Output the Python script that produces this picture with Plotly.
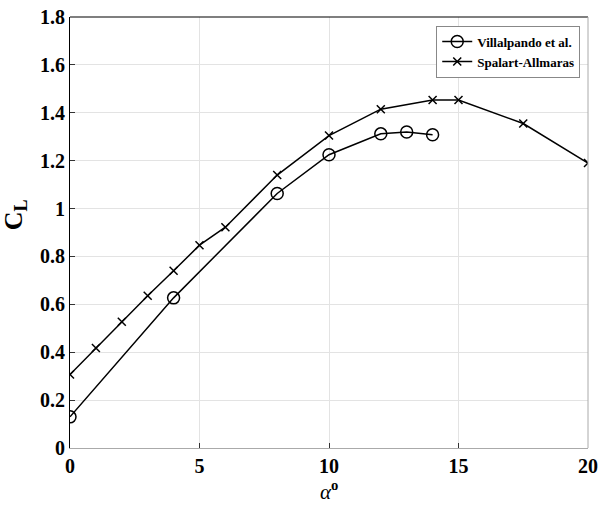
import plotly.graph_objects as go

vil_alpha = [0, 4, 8, 10, 12, 13, 14]
vil_cl = [0.13, 0.627, 1.063, 1.225, 1.312, 1.320, 1.308]
sa_alpha = [0, 1, 2, 3, 4, 5, 6, 8, 10, 12, 14, 15, 17.5, 20]
sa_cl = [0.307, 0.418, 0.527, 0.636, 0.740, 0.847, 0.922, 1.140, 1.305, 1.415, 1.453, 1.453, 1.355, 1.190]
x_ticks = [0, 5, 10, 15, 20]
x_labels = ["0", "5", "10", "15", "20"]
y_ticks = [0, 0.2, 0.4, 0.6, 0.8, 1, 1.2, 1.4, 1.6, 1.8]
y_labels = ["0", "0.2", "0.4", "0.6", "0.8", "1", "1.2", "1.4", "1.6", "1.8"]

font = "Liberation Serif"
fig = go.Figure()
fig.add_trace(go.Scatter(x=vil_alpha, y=vil_cl, mode="lines+markers", name="<b>Villalpando et al.</b>",
                         line=dict(color="black", width=1.5),
                         marker=dict(symbol="circle-open", size=12, color="black", line=dict(width=1.5))))
fig.add_trace(go.Scatter(x=sa_alpha, y=sa_cl, mode="lines+markers", name="<b>Spalart-Allmaras</b>",
                         line=dict(color="black", width=1.5),
                         marker=dict(symbol="x-thin-open", size=8, color="black", line=dict(width=1.5, color="black"))))

fig.update_layout(
    width=599, height=505,
    margin=dict(l=70, r=11, t=17, b=57),
    plot_bgcolor="white", paper_bgcolor="white",
    font=dict(family=font, color="black"),
    showlegend=True,
    legend=dict(x=0.985, y=0.98, xanchor="right", yanchor="top",
                bgcolor="white", bordercolor="#888888", borderwidth=1,
                font=dict(family=font, size=13, color="black"),
                tracegroupgap=0, itemwidth=30),
    xaxis=dict(range=[0, 20], tickvals=x_ticks, ticktext=["<b>%s</b>" % t for t in x_labels],
               ticks="inside", ticklen=5, tickcolor="#333333",
               showgrid=True, gridcolor="#e3e3e3", gridwidth=1,
               showline=True, linecolor="#aaaaaa", linewidth=1, mirror=False,
               tickfont=dict(family=font, size=20, color="black"),
               automargin=False, zeroline=False),
    yaxis=dict(range=[0, 1.8], tickvals=y_ticks, ticktext=["<b>%s</b>" % t for t in y_labels],
               ticks="inside", ticklen=5, tickcolor="#333333",
               showgrid=True, gridcolor="#e3e3e3", gridwidth=1,
               showline=True, linecolor="black", linewidth=1.2,
               tickfont=dict(family=font, size=20, color="black"),
               automargin=False, zeroline=False),
    annotations=[
        dict(text="<i>α</i><sup><b>o</b></sup>", xref="paper", yref="paper", x=0.5, y=0, yshift=-27,
             xanchor="center", yanchor="top", showarrow=False,
             font=dict(family=font, size=21, color="black")),
        dict(text="<b>C<sub>L</sub></b>", xref="paper", yref="paper", x=0, y=0.54, xshift=-37,
             xanchor="right", yanchor="middle", showarrow=False, textangle=-90,
             font=dict(family=font, size=26, color="black")),
    ],
)
fig.add_shape(type="line", xref="paper", yref="paper", x0=0, x1=1, y0=1, y1=1, line=dict(color="black", width=1.2))
fig.add_shape(type="line", xref="paper", yref="paper", x0=1, x1=1, y0=0, y1=1, line=dict(color="#aaaaaa", width=1))

fig.write_html("out.html", config={"displayModeBar": False},
               post_script="document.body.style.margin='0';document.body.style.overflow='hidden';")
